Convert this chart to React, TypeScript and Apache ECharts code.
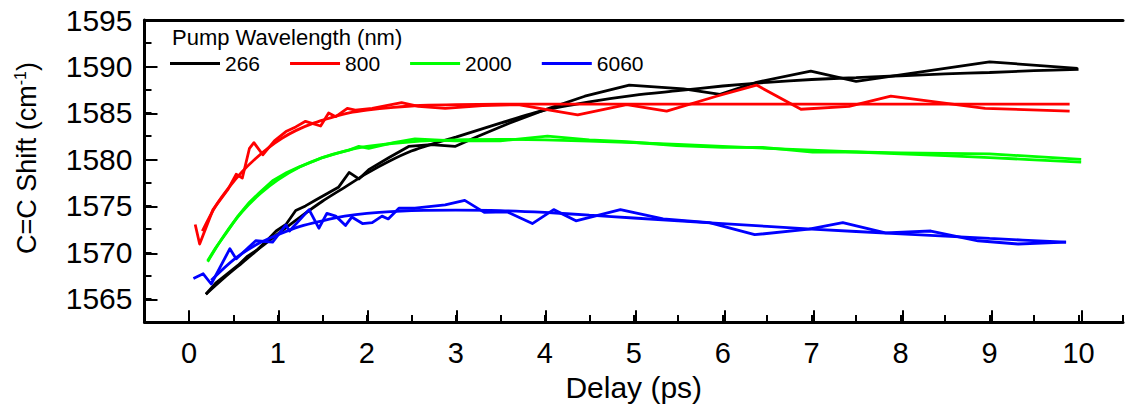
import React, { useEffect, useRef } from "react";
import * as echarts from "echarts";

const FONT = "'Liberation Sans', Arial, sans-serif";

const seriesNames = ["266", "800", "2000", "6060"];
const seriesColors = ["#000000", "#ff0000", "#00ff00", "#0000ff"];

// 266 nm
const x266 = [0.19, 0.3, 0.42, 0.55, 0.66, 0.77, 0.88, 0.98, 1.09, 1.2, 1.31, 1.42, 1.55, 1.68, 1.8, 1.91, 2.02, 2.25, 2.47, 2.72, 2.99, 3.25, 3.6, 3.99, 4.45, 4.95, 5.56, 5.97, 6.38, 6.99, 7.5, 9.0, 9.99];
const y266 = [1565.5, 1566.7, 1567.6, 1568.6, 1569.6, 1570.3, 1571.3, 1572.3, 1573.0, 1574.5, 1575.0, 1575.6, 1576.3, 1577.0, 1578.6, 1577.9, 1578.9, 1580.2, 1581.4, 1581.6, 1581.4, 1582.5, 1583.9, 1585.3, 1586.8, 1588.0, 1587.6, 1587.0, 1588.3, 1589.5, 1588.4, 1590.5, 1589.8];
const x266Fit = [0.19, 0.4, 0.6, 0.8, 1.0, 1.25, 1.5, 1.75, 2.0, 2.25, 2.5, 2.75, 3.0, 3.5, 4.0, 4.5, 5.0, 5.5, 6.0, 6.5, 7.0, 7.5, 8.0, 8.5, 9.0, 9.5, 10.0];
const y266Fit = [1565.5, 1567.3, 1568.9, 1570.5, 1572.0, 1573.8, 1575.5, 1577.0, 1578.5, 1579.8, 1580.9, 1581.7, 1582.4, 1583.9, 1585.3, 1586.2, 1586.9, 1587.4, 1587.9, 1588.3, 1588.6, 1588.8, 1589.0, 1589.2, 1589.35, 1589.55, 1589.7];

// 800 nm
const x800 = [0.07, 0.12, 0.27, 0.44, 0.53, 0.6, 0.68, 0.73, 0.83, 0.96, 1.09, 1.2, 1.31, 1.48, 1.57, 1.65, 1.78, 1.87, 2.06, 2.39, 2.58, 2.88, 3.3, 3.7, 3.99, 4.37, 4.92, 5.37, 5.93, 6.38, 6.88, 7.42, 7.89, 8.95, 9.9];
const y800 = [1573.0, 1570.9, 1574.6, 1576.8, 1578.4, 1578.0, 1581.2, 1581.8, 1580.5, 1582.0, 1583.0, 1583.5, 1584.1, 1583.6, 1585.0, 1584.6, 1585.5, 1585.3, 1585.5, 1586.1, 1585.7, 1585.5, 1585.8, 1585.9, 1585.4, 1584.8, 1585.9, 1585.2, 1586.8, 1588.0, 1585.4, 1585.7, 1586.8, 1585.5, 1585.2];
const x800Fit = [0.15, 0.3, 0.45, 0.6, 0.75, 0.9, 1.05, 1.2, 1.4, 1.6, 1.8, 2.0, 2.3, 2.6, 3.0, 4.0, 6.0, 9.9];
const y800Fit = [1572.3, 1575.0, 1577.0, 1578.7, 1580.1, 1581.3, 1582.3, 1583.1, 1583.9, 1584.5, 1585.0, 1585.3, 1585.6, 1585.8, 1585.9, 1585.95, 1585.95, 1585.95];

// 2000 nm
const x2000 = [0.21, 0.3, 0.42, 0.55, 0.68, 0.8, 0.94, 1.1, 1.24, 1.4, 1.5, 1.68, 1.8, 1.91, 2.02, 2.3, 2.54, 2.99, 3.5, 4.03, 4.5, 4.92, 5.48, 6.0, 6.45, 7.01, 7.5, 8.0, 9.0, 10.03];
const y2000 = [1569.1, 1570.5, 1572.1, 1573.9, 1575.4, 1576.5, 1577.7, 1578.6, 1579.2, 1579.8, 1580.2, 1580.7, 1581.0, 1581.4, 1581.2, 1581.8, 1582.2, 1582.0, 1582.0, 1582.5, 1582.1, 1581.9, 1581.5, 1581.3, 1581.3, 1580.8, 1580.8, 1580.7, 1580.6, 1580.0];
const x2000Fit = [0.21, 0.4, 0.6, 0.8, 1.0, 1.25, 1.5, 1.75, 2.0, 2.5, 3.0, 3.5, 4.0, 5.0, 6.0, 7.0, 8.0, 9.0, 10.03];
const y2000Fit = [1569.0, 1571.9, 1574.4, 1576.3, 1577.8, 1579.2, 1580.2, 1580.9, 1581.4, 1581.9, 1582.1, 1582.15, 1582.1, 1581.8, 1581.4, 1581.0, 1580.6, 1580.2, 1579.7];

// 6060 nm
const x6060 = [0.05, 0.16, 0.25, 0.46, 0.53, 0.75, 0.94, 1.09, 1.13, 1.35, 1.46, 1.55, 1.65, 1.76, 1.83, 1.95, 2.06, 2.17, 2.24, 2.36, 2.54, 2.88, 3.1, 3.32, 3.58, 3.86, 4.1, 4.35, 4.85, 5.33, 5.85, 6.36, 6.97, 7.35, 7.83, 8.34, 8.87, 9.32, 9.86];
const y6060 = [1567.2, 1567.7, 1566.6, 1570.4, 1569.3, 1571.25, 1571.1, 1572.95, 1572.3, 1574.6, 1572.6, 1574.2, 1573.9, 1572.9, 1573.8, 1573.1, 1573.2, 1573.9, 1573.6, 1574.75, 1574.75, 1575.1, 1575.6, 1574.3, 1574.35, 1573.1, 1574.6, 1573.4, 1574.6, 1573.6, 1573.2, 1571.9, 1572.5, 1573.2, 1572.1, 1572.3, 1571.25, 1570.9, 1571.1];
const x6060Fit = [0.25, 0.5, 0.75, 1.0, 1.25, 1.5, 1.75, 2.0, 2.5, 3.0, 3.5, 4.0, 4.5, 5.0, 6.0, 7.0, 8.0, 9.0, 9.86];
const y6060Fit = [1567.0, 1569.2, 1570.8, 1571.9, 1572.8, 1573.4, 1573.9, 1574.2, 1574.5, 1574.55, 1574.5, 1574.3, 1574.0, 1573.7, 1573.1, 1572.5, 1572.0, 1571.5, 1571.1];

// tick positions for major ticks (overlay axes)
const xTickValues = ["-0.5", "0", "0.5", "1", "1.5", "2", "2.5", "3", "3.5", "4", "4.5", "5", "5.5", "6", "6.5", "7", "7.5", "8", "8.5", "9", "9.5", "10", "10.5"];
const yTickValues = ["1562.5", "1565", "1567.5", "1570", "1572.5", "1575", "1577.5", "1580", "1582.5", "1585", "1587.5", "1590", "1592.5", "1595"];

const dataX = [x266, x800, x2000, x6060];
const dataY = [y266, y800, y2000, y6060];
const fitX = [x266Fit, x800Fit, x2000Fit, x6060Fit];
const fitY = [y266Fit, y800Fit, y2000Fit, y6060Fit];

const pair = (xs: number[], ys: number[]) => xs.map((x, i) => [x, ys[i]]);

export default function App() {
  const ref = useRef<HTMLDivElement>(null);
  useEffect(() => {
    if (!ref.current) return;
    const chart = echarts.init(ref.current, undefined, { renderer: "svg" });
    const black = "#000000";
    const gridRect = { left: 144.5, top: 20, width: 985, height: 303.3 };
    const series: any[] = [];
    seriesNames.forEach((name, i) => {
      series.push({
        type: "line",
        name,
        xAxisIndex: 0,
        yAxisIndex: 0,
        data: pair(dataX[i], dataY[i]),
        symbol: "none",
        showSymbol: false,
        lineStyle: { color: seriesColors[i], width: 2.8, join: "round" },
        itemStyle: { color: seriesColors[i] },
        z: 3,
      });
      series.push({
        type: "line",
        name: name + " fit",
        xAxisIndex: 0,
        yAxisIndex: 0,
        data: pair(fitX[i], fitY[i]),
        symbol: "none",
        showSymbol: false,
        smooth: 0.3,
        lineStyle: { color: seriesColors[i], width: 2.8 },
        itemStyle: { color: seriesColors[i] },
        z: 3,
      });
    });
    chart.setOption({
      animation: false,
      backgroundColor: "#ffffff",
      textStyle: { fontFamily: FONT },
      title: {
        text: "Pump Wavelength (nm)",
        left: 172,
        top: 26,
        padding: 0,
        textStyle: { fontFamily: FONT, fontSize: 22, fontWeight: "normal", color: black },
      },
      legend: {
        data: seriesNames,
        left: 170,
        top: 53,
        padding: 0,
        icon: "rect",
        itemWidth: 50,
        itemHeight: 3,
        itemGap: 30,
        textStyle: { fontFamily: FONT, fontSize: 21, color: black },
      },
      graphic: [
        {
          type: "text",
          x: 27,
          y: 158,
          rotation: Math.PI / 2,
          style: {
            text: "{a|C=C Shift (cm}{s|-1}{a|)}",
            rich: {
              a: { fontSize: 27, fontFamily: FONT, fill: black },
              s: { fontSize: 16, fontFamily: FONT, fill: black, padding: [0, 0, 14, 0] },
            },
            align: "center",
            verticalAlign: "middle",
          },
        },
      ],
      grid: [
        { ...gridRect, containLabel: false },
        { ...gridRect, containLabel: false },
      ],
      xAxis: [
        {
          type: "value",
          gridIndex: 0,
          position: "bottom",
          min: -0.5,
          max: 10.5,
          interval: 0.5,
          axisLine: { show: true, onZero: false, lineStyle: { color: black, width: 3 } },
          axisTick: { show: true, inside: true, length: 7, lineStyle: { color: black, width: 2 } },
          axisLabel: {
            formatter: (v: number) => (Number.isInteger(v) ? String(v) : ""),
            margin: 16,
            fontSize: 29,
            fontFamily: FONT,
            color: black,
          },
          splitLine: { show: false },
          name: "Delay (ps)",
          nameLocation: "middle",
          nameGap: 46,
          nameTextStyle: { fontSize: 30, fontFamily: FONT, color: black },
        },
        {
          type: "value",
          gridIndex: 0,
          position: "top",
          min: -0.5,
          max: 10.5,
          axisLine: { show: true, onZero: false, lineStyle: { color: black, width: 3 } },
          axisTick: { show: false },
          axisLabel: { show: false },
          splitLine: { show: false },
        },
        {
          type: "category",
          gridIndex: 1,
          position: "bottom",
          data: xTickValues,
          boundaryGap: false,
          axisLine: { show: false, onZero: false },
          axisTick: {
            show: true,
            inside: true,
            length: 13,
            interval: (_i: number, v: string) => Number.isInteger(Number(v)),
            lineStyle: { color: black, width: 2 },
          },
          axisLabel: { show: false },
          splitLine: { show: false },
        },
      ],
      yAxis: [
        {
          type: "value",
          gridIndex: 0,
          position: "left",
          min: 1562.5,
          max: 1595,
          interval: 2.5,
          axisLine: { show: true, onZero: false, lineStyle: { color: black, width: 3 } },
          axisTick: { show: true, inside: true, length: 7, lineStyle: { color: black, width: 2 } },
          axisLabel: {
            formatter: (v: number) => (v % 5 === 0 ? String(v) : ""),
            margin: 12,
            fontSize: 30,
            fontFamily: FONT,
            color: black,
          },
          splitLine: { show: false },
        },
        {
          type: "category",
          gridIndex: 1,
          position: "left",
          data: yTickValues,
          boundaryGap: false,
          axisLine: { show: false, onZero: false },
          axisTick: {
            show: true,
            inside: true,
            length: 13,
            interval: (_i: number, v: string) => Number(v) % 5 === 0,
            lineStyle: { color: black, width: 2 },
          },
          axisLabel: { show: false },
          splitLine: { show: false },
        },
      ],
      series,
    });
    return () => chart.dispose();
  }, []);
  return (
    <div
      ref={ref}
      style={{ position: "fixed", left: 0, top: 0, width: 1126, height: 407, background: "#fff" }}
    />
  );
}
